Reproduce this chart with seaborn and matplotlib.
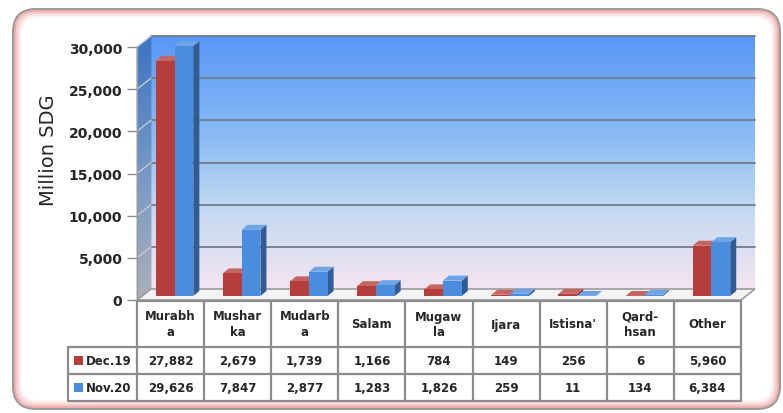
import matplotlib
matplotlib.use("Agg")
import matplotlib.pyplot as plt
import matplotlib.transforms as mtransforms
from matplotlib.collections import PolyCollection
from matplotlib.colors import LinearSegmentedColormap, to_rgb
from matplotlib.patches import FancyBboxPatch, Polygon, Rectangle
import numpy as np
import pandas as pd
import seaborn as sns

# ---- data ----
categories = ["Murabha", "Musharka", "Mudarba", "Salam", "Mugawla",
              "Ijara", "Istisna'", "Qard-hsan", "Other"]
header_labels = ["Murabh\na", "Mushar\nka", "Mudarb\na", "Salam", "Mugaw\nla",
                 "Ijara", "Istisna'", "Qard-\nhsan", "Other"]
series_names = ["Dec.19", "Nov.20"]
dec19 = [27882, 2679, 1739, 1166, 784, 149, 256, 6, 5960]
nov20 = [29626, 7847, 2877, 1283, 1826, 259, 11, 134, 6384]
yticks = [0, 5000, 10000, 15000, 20000, 25000, 30000]

series_colors = ["#b53e3b", "#4a8ddf"]

df = pd.DataFrame({
    "category": categories * 2,
    "series": [series_names[0]] * len(categories) + [series_names[1]] * len(categories),
    "value": dec19 + nov20,
})

sns.set_theme(style="white")
plt.rcParams["font.family"] = ["DejaVu Sans"]

W, H = 783, 414
fig = plt.figure(figsize=(W / 100, H / 100), dpi=100)
fig.patch.set_facecolor("white")

# front plane of the 3D box in pixels
x_left, x_right, y_zero, y_top = 137, 741, 301, 48
ax = fig.add_axes([x_left / W, (H - y_zero) / H,
                   (x_right - x_left) / W, (y_zero - y_top) / H])
ax.set_facecolor("none")
ncat = len(categories)
ymax = yticks[-1]
sx = ncat / (x_right - x_left)      # data units per pixel (x)
sy = ymax / (y_zero - y_top)        # data units per pixel (y)

# wall depth (right, up) in data units
wx, wy = 14 * sx, 11 * sy
x0, x1 = -0.5, ncat - 0.5

# back wall with gradient
wall_cmap = LinearSegmentedColormap.from_list(
    "wall", [(0, "#f4e4f2"), (0.3, "#c6daf1"), (0.6, "#8bbcf6"), (1, "#5897f5")])
grad = np.linspace(0, 1, 256).reshape(-1, 1)
back = ax.imshow(grad, extent=(x0 + wx, x1 + wx, wy, ymax + wy), origin="lower",
                 aspect="auto", cmap=wall_cmap, zorder=0)
back.set_clip_on(False)

# left wall, drawn as thin sheared strips to get a gradient
side_cmap = LinearSegmentedColormap.from_list(
    "side", [(0, "#a8adb8"), (0.4, "#7f9cc4"), (1, "#3c74c2")])
levels = np.linspace(0, ymax, 61)
strips = [[(x0, a), (x0, b), (x0 + wx, b + wy), (x0 + wx, a + wy)]
          for a, b in zip(levels[:-1], levels[1:])]
strip_cols = side_cmap((levels[:-1] + levels[1:]) / 2 / ymax)
ax.add_collection(PolyCollection(strips, facecolors=strip_cols,
                                 edgecolors=strip_cols, linewidths=0.5,
                                 zorder=0.5, clip_on=False))

# grid lines on the walls
for t in yticks[1:]:
    ax.plot([x0 + wx, x1 + wx], [t + wy, t + wy], color="#6f7c8a", lw=1.3,
            zorder=1, clip_on=False)
    ax.plot([x0, x0 + wx], [t, t + wy], color="#c3cbd6", lw=1.0,
            zorder=1, clip_on=False)

# floor
floor = Polygon([(x0, 0), (x1, 0), (x1 + wx, wy), (x0 + wx, wy)], closed=True,
                facecolor="#f3f3f5", edgecolor="#9c9c9c", lw=1.2, zorder=1.5,
                clip_on=False)
ax.add_patch(floor)

# bars
sns.barplot(data=df, x="category", y="value", hue="series", order=categories,
            hue_order=series_names, palette=series_colors, width=0.56,
            saturation=1, legend=False, ax=ax)

bx, by = 4 * sx, 4 * sy      # bar set-back from the front plane
dx, dy = 6 * sx, 5 * sy      # bar depth
for ci, cont in enumerate(ax.containers):
    z = 3 + ci
    for p in cont:
        xb, wb, hb = p.get_x() + bx, p.get_width(), p.get_height()
        p.set_x(xb)
        p.set_y(by)
        p.set_edgecolor("none")
        p.set_zorder(z + 0.2)
        p.set_clip_on(False)
        base = np.array(to_rgb(p.get_facecolor()))
        side_c = base * 0.65
        top_c = base + (1 - base) * 0.2
        yb, yt = by, by + hb
        side = Polygon([(xb + wb, yb), (xb + wb, yt), (xb + wb + dx, yt + dy),
                        (xb + wb + dx, yb + dy)], closed=True, facecolor=side_c,
                       edgecolor="none", zorder=z, clip_on=False)
        top = Polygon([(xb, yt), (xb + wb, yt), (xb + wb + dx, yt + dy),
                       (xb + dx, yt + dy)], closed=True, facecolor=top_c,
                      edgecolor="none", zorder=z + 0.1, clip_on=False)
        ax.add_patch(side)
        ax.add_patch(top)

ax.set_xlim(x0, x1)
ax.set_ylim(0, ymax)
ax.set_yticks(yticks)
ax.set_yticklabels([f"{t:,}" for t in yticks], fontsize=10, fontweight="bold")
ax.set_xticks([])
ax.set_xlabel("")
ax.tick_params(axis="y", length=7, width=1, color="#8c8c8c", pad=3.5, left=True)
for s in ["top", "right", "bottom"]:
    ax.spines[s].set_visible(False)
ax.spines["left"].set_color("#9a9a9a")
ax.spines["left"].set_linewidth(1.0)
ax.set_ylabel("Million SDG", fontsize=14)
ax.yaxis.set_label_coords((58 - x_left) / (x_right - x_left),
                          (y_zero - 150) / (y_zero - y_top))

# data table under the chart
tb = mtransforms.blended_transform_factory(ax.transData, fig.transFigure)
fy = lambda ypx: 1 - ypx / H
line_c, line_w = "#8c8c8c", 1.6
row_top, row_head, row_mid, row_bot = 302, 348, 375, 402
xl = x0 - 69 * sx

for ya, xa in [(row_top, x0), (row_head, xl), (row_mid, xl), (row_bot, xl)]:
    ax.plot([xa, x1], [fy(ya), fy(ya)], color=line_c, lw=line_w,
            transform=tb, clip_on=False, zorder=5)
for k in range(ncat + 1):
    xb_ = x0 + k
    ax.plot([xb_, xb_], [fy(row_top), fy(row_bot)], color=line_c, lw=line_w,
            transform=tb, clip_on=False, zorder=5)
ax.plot([xl, xl], [fy(row_head), fy(row_bot)], color=line_c, lw=line_w,
        transform=tb, clip_on=False, zorder=5)

for k, lab in enumerate(header_labels):
    ax.text(k, fy((row_top + row_head) / 2), lab, transform=tb, ha="center",
            va="center", fontsize=8.5, fontweight="bold", linespacing=1.3)

for r, (name, vals, col) in enumerate(zip(series_names, [dec19, nov20],
                                           series_colors)):
    ymid = (row_head + row_mid) / 2 if r == 0 else (row_mid + row_bot) / 2
    for k, v in enumerate(vals):
        ax.text(k, fy(ymid), f"{v:,}", transform=tb, ha="center", va="center",
                fontsize=8.5, fontweight="bold")
    fig.patches.append(Rectangle((74 / W, fy(ymid + 4.5)), 9 / W, 9 / H,
                                 transform=fig.transFigure, facecolor=col,
                                 edgecolor="none"))
    fig.text(86 / W, fy(ymid), name, ha="left", va="center", fontsize=8.5,
             fontweight="bold")

# rounded frame with a soft red glow
for k, a in enumerate([0.35, 0.22, 0.12, 0.06]):
    fig.patches.append(FancyBboxPatch(
        (14 + 2 * k, 5 + 2 * k), 765 - 4 * k, 398 - 4 * k,
        boxstyle=f"round,pad=0,rounding_size={22 - k}",
        transform=mtransforms.IdentityTransform(), facecolor="none",
        edgecolor="#e04848", alpha=a, lw=2.5, zorder=0))
fig.patches.append(FancyBboxPatch(
    (13, 4), 767, 400, boxstyle="round,pad=0,rounding_size=23",
    transform=mtransforms.IdentityTransform(), facecolor="none",
    edgecolor="#9a9a9a", lw=1.4, zorder=0))

fig.savefig("out.png", dpi=100)
